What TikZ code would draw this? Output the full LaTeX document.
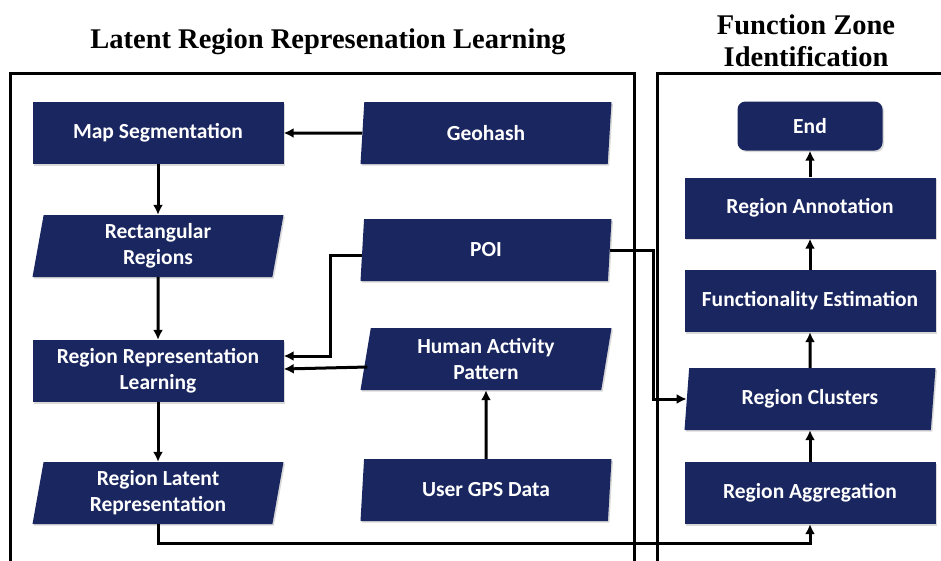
\documentclass[tikz,border=0pt]{standalone}
\usepackage{fontspec}
\setmainfont{Liberation Serif}
\newfontfamily\boxfont{Carlito}
\usetikzlibrary{shapes.geometric, arrows.meta, positioning, shadows, calc}
\definecolor{zonenavy}{RGB}{26,38,96}

\begin{document}
\begin{tikzpicture}[x=1pt,y=-1pt,
    box/.style={rectangle,fill=zonenavy,text=white,minimum width=251pt,minimum height=62pt,inner sep=0pt,align=center,
        font=\boxfont\bfseries\fontsize{21.5}{26}\selectfont,
        drop shadow={shadow xshift=1.5pt,shadow yshift=-1.5pt,opacity=0.3}},
    data/.style={box,trapezium,trapezium left angle=76,trapezium right angle=104,trapezium stretches body=true},
    frame/.style={draw,line width=3pt},
    link/.style={line width=3pt,-{Latex[length=10pt,width=10pt]}},
    heading/.style={font=\bfseries\fontsize{28.5}{32}\selectfont,align=center}]
    \useasboundingbox (0,0) rectangle (941,560);

    % Titoli
    \node[heading] (lefttitle) at (328,42) {Latent Region Represenation Learning};
    \node[heading] (righttitle) at (806,41) {Function Zone\\Identification};

    % Riquadri
    \draw[frame] (10,73) rectangle (634,580);
    \draw[frame] (657,73) rectangle (960,580);

    % Apprendimento delle regioni
    \node[box] (mapseg) at (158,133) {Map Segmentation};
    \node[data] (geohash) at (486,133) {Geohash};
    \node[data] (rectreg) at (158,246) {Rectangular\\Regions};
    \node[data] (poi) at (486,250) {POI};
    \node[box] (rrl) at (158,371) {Region Representation\\Learning};
    \node[data] (hap) at (486,359) {Human Activity\\Pattern};
    \node[data] (rlr) at (158,493) {Region Latent\\Representation};
    \node[data] (gps) at (486,490) {User GPS Data};

    % Identificazione delle zone
    \node[box,minimum width=145pt,minimum height=49pt,rounded corners=8pt] (finish) at (810,126) {End};
    \node[box,minimum height=61pt] (annot) at (810,208) {Region Annotation};
    \node[box] (funcest) at (810,301) {Functionality Estimation};
    \node[data] (clusters) at (810,399) {Region Clusters};
    \node[box] (aggr) at (810,493) {Region Aggregation};

    % Collegamenti
    \draw[link] (geohash) -- (mapseg);
    \draw[link] (mapseg) -- (rectreg);
    \draw[link] (rectreg) -- (rrl);
    \draw[link] (rrl) -- (rlr);
    \draw[link] (gps) -- (hap);
    \draw[link] ([yshift=-5pt]poi.west) -- ++(-32,0) |- ([yshift=15pt]rrl.east);
    \draw[link] ([yshift=-8pt,xshift=2pt]hap.west) -- ([yshift=2pt]rrl.east);
    \draw[link] (poi.east) -- ++(44,0) |- (clusters.west);
    \draw[link] (rlr.south) -- ++(0,19) -| (aggr.south);
    \draw[link] (aggr) -- (clusters);
    \draw[link] (clusters) -- (funcest);
    \draw[link] (funcest) -- (annot);
    \draw[link] (annot) -- (finish);
\end{tikzpicture}
\end{document}
